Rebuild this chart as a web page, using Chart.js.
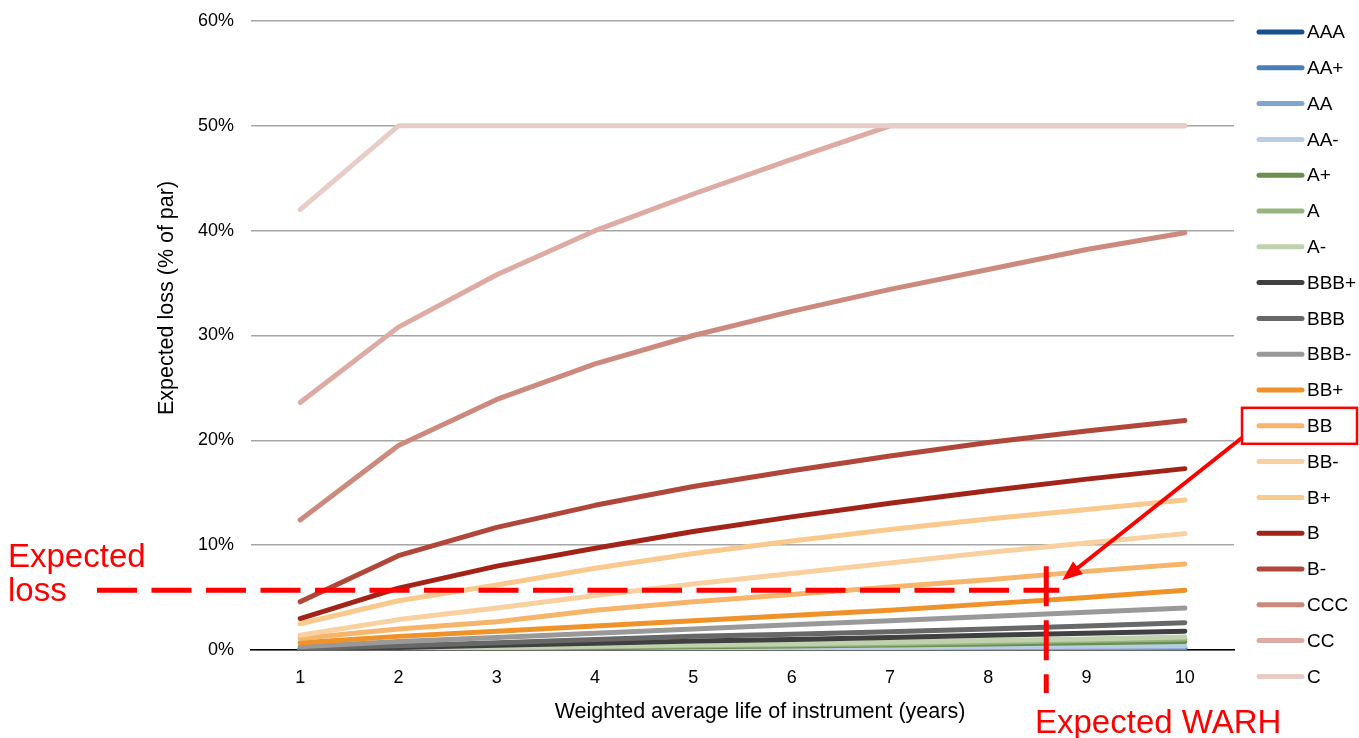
<!DOCTYPE html>
<html>
<head>
<meta charset="utf-8">
<script src="https://cdn.jsdelivr.net/npm/chart.js@4.4.1/dist/chart.umd.min.js"></script>
<style>
  body { margin: 0; background: #fff; }
  #wrap { width: 1359px; height: 738px; }
</style>
</head>
<body>
<div id="wrap"><canvas id="loss" width="1359" height="738"></canvas></div>
<script>
// years of weighted average life
var years = ['1', '2', '3', '4', '5', '6', '7', '8', '9', '10'];
var ratings = ['AAA', 'AA+', 'AA', 'AA-', 'A+', 'A', 'A-', 'BBB+', 'BBB', 'BBB-',
               'BB+', 'BB', 'BB-', 'B+', 'B', 'B-', 'CCC', 'CC', 'C'];
var colours = ['#17508f', '#4a7fb5', '#7fa6cf', '#b7cde3', '#6a8f4e', '#98b47f', '#bfd2ad',
               '#404040', '#686868', '#999999', '#f0922a', '#f6b56a', '#f9d09f', '#f9c98d',
               '#a22418', '#b0473a', '#cc8a7f', '#ddaba3', '#e8ccc7'];

// expected loss, % of par
var lossAAA  = [0.0, 0.01, 0.02, 0.03, 0.04, 0.05, 0.06, 0.08, 0.1, 0.12];
var lossAAp  = [0.01, 0.02, 0.04, 0.06, 0.08, 0.1, 0.12, 0.15, 0.18, 0.2];
var lossAA   = [0.01, 0.03, 0.05, 0.08, 0.1, 0.13, 0.16, 0.2, 0.24, 0.28];
var lossAAm  = [0.02, 0.05, 0.08, 0.12, 0.16, 0.2, 0.25, 0.3, 0.35, 0.4];
var lossAp   = [0.03, 0.08, 0.15, 0.22, 0.3, 0.38, 0.47, 0.57, 0.68, 0.8];
var lossA    = [0.04, 0.1, 0.2, 0.3, 0.4, 0.5, 0.6, 0.75, 0.9, 1.05];
var lossAm   = [0.05, 0.15, 0.25, 0.35, 0.5, 0.6, 0.75, 0.9, 1.05, 1.25];
var lossBBBp = [0.1, 0.25, 0.45, 0.65, 0.85, 1.0, 1.2, 1.4, 1.6, 1.8];
var lossBBB  = [0.15, 0.4, 0.7, 1.0, 1.3, 1.5, 1.75, 2.0, 2.3, 2.6];
var lossBBBm = [0.3, 0.8, 1.2, 1.6, 2.0, 2.4, 2.8, 3.2, 3.6, 4.0];
var lossBBp  = [0.7, 1.3, 1.8, 2.3, 2.8, 3.3, 3.8, 4.4, 5.0, 5.7];
var lossBB   = [1.1, 2.0, 2.7, 3.8, 4.6, 5.3, 6.0, 6.7, 7.5, 8.2];
var lossBBm  = [1.4, 2.9, 4.0, 5.2, 6.3, 7.3, 8.3, 9.3, 10.2, 11.1];
var lossBp   = [2.5, 4.7, 6.2, 7.8, 9.2, 10.4, 11.5, 12.5, 13.4, 14.3];
var lossB    = [3.0, 5.9, 8.0, 9.7, 11.3, 12.7, 14.0, 15.2, 16.3, 17.3];
var lossBm   = [4.6, 9.0, 11.7, 13.8, 15.6, 17.1, 18.5, 19.8, 20.9, 21.9];
var lossCCC  = [12.4, 19.5, 23.9, 27.3, 30.0, 32.3, 34.4, 36.3, 38.2, 39.8];
var lossCC   = [23.6, 30.8, 35.8, 40.0, 43.5, 46.8, 50, 50, 50, 50];
var lossC    = [42.0, 50, 50, 50, 50, 50, 50, 50, 50, 50];

var allLoss = [lossAAA, lossAAp, lossAA, lossAAm, lossAp, lossA, lossAm, lossBBBp, lossBBB, lossBBBm,
               lossBBp, lossBB, lossBBm, lossBp, lossB, lossBm, lossCCC, lossCC, lossC];

// annotation: expected loss level and expected WARH (years)
var expectedLoss = 5.7;
var expectedWarh = 8.59;
var highlighted = 'BB';

var FONT = 'Liberation Sans, Arial, sans-serif';

var datasets = ratings.map(function (r, i) {
  return {
    label: r,
    data: allLoss[i],
    borderColor: colours[i],
    backgroundColor: colours[i],
    borderWidth: 5,
    borderCapStyle: 'round',
    borderJoinStyle: 'round',
    pointRadius: 0,
    tension: 0,
    order: ratings.length - i
  };
});

var extras = {
  id: 'extras',
  afterDraw: function (chart) {
    var c = chart.ctx;
    var area = chart.chartArea;
    var xs = chart.scales.x, ys = chart.scales.y;
    c.save();

    // axis titles
    c.fillStyle = '#000';
    c.font = '21.5px ' + FONT;
    c.textAlign = 'center';
    c.textBaseline = 'middle';
    c.fillText('Weighted average life of instrument (years)', 760, 712);
    c.save();
    c.translate(167, 298);
    c.rotate(-Math.PI / 2);
    c.fillText('Expected loss (% of par)', 0, 0);
    c.restore();

    // legend
    c.font = '19px ' + FONT;
    c.textAlign = 'left';
    var hy = 0;
    chart.data.datasets.forEach(function (ds, i) {
      var y = 32 + i * 35.8;
      c.strokeStyle = ds.borderColor;
      c.lineWidth = 5;
      c.lineCap = 'round';
      c.beginPath();
      c.moveTo(area.right + 25, y);
      c.lineTo(area.right + 68, y);
      c.stroke();
      c.fillStyle = '#000';
      c.fillText(ds.label, area.right + 73, y + 1);
      if (ds.label === highlighted) hy = y;
    });

    // highlight box around legend entry
    c.strokeStyle = '#ff0000';
    c.lineWidth = 2.5;
    c.lineCap = 'butt';
    c.strokeRect(area.right + 8, hy - 18, 115, 36);

    // expected loss line
    var ly = ys.getPixelForValue(expectedLoss);
    var wx = xs.getPixelForValue(expectedWarh - 1);
    c.lineWidth = 5;
    c.setLineDash([40, 14.5]);
    c.beginPath();
    c.moveTo(97, ly);
    c.lineTo(wx + 13, ly);
    c.stroke();
    // expected WARH line
    c.setLineDash([40, 14]);
    c.beginPath();
    c.moveTo(wx, ly - 24);
    c.lineTo(wx, 693);
    c.stroke();
    c.setLineDash([]);

    // arrow from the box to the crossing
    var ax0 = area.right + 8, ay0 = hy + 12;
    var ax1 = wx + 16, ay1 = ly - 10;
    var ang = Math.atan2(ay1 - ay0, ax1 - ax0);
    c.lineWidth = 4;
    c.beginPath();
    c.moveTo(ax0, ay0);
    c.lineTo(ax1 - 14 * Math.cos(ang), ay1 - 14 * Math.sin(ang));
    c.stroke();
    c.fillStyle = '#ff0000';
    c.beginPath();
    c.moveTo(ax1, ay1);
    c.lineTo(ax1 - 20 * Math.cos(ang) + 8 * Math.sin(ang), ay1 - 20 * Math.sin(ang) - 8 * Math.cos(ang));
    c.lineTo(ax1 - 20 * Math.cos(ang) - 8 * Math.sin(ang), ay1 - 20 * Math.sin(ang) + 8 * Math.cos(ang));
    c.closePath();
    c.fill();

    // red labels
    c.font = '33px ' + FONT;
    c.textAlign = 'left';
    c.textBaseline = 'alphabetic';
    c.fillText('Expected', 8, 567);
    c.fillText('loss', 8, 601);
    c.fillText('Expected WARH', 1035, 733);

    c.restore();
  }
};

var chart = new Chart(document.getElementById('loss').getContext('2d'), {
  type: 'line',
  data: { labels: years, datasets: datasets },
  options: {
    responsive: false,
    animation: false,
    devicePixelRatio: 1,
    layout: { padding: { top: 21, right: 125, left: 0, bottom: 0 } },
    plugins: { legend: { display: false }, tooltip: { enabled: false } },
    scales: {
      x: {
        offset: true,
        grid: { display: false, drawTicks: false },
        border: { display: true, color: '#000', width: 1.5 },
        ticks: { color: '#000', padding: 17, font: { family: FONT, size: 18 } },
        afterFit: function (s) { s.height = 88; s.paddingLeft = 0; s.paddingRight = 0; }
      },
      y: {
        min: 0,
        max: 60,
        ticks: {
          stepSize: 10,
          padding: 17,
          color: '#000',
          font: { family: FONT, size: 18 },
          callback: function (v) { return v + '%'; }
        },
        grid: { color: '#a6a6a6', lineWidth: 1.5, drawTicks: false },
        border: { display: false },
        afterFit: function (s) { s.width = 251; s.paddingTop = 0; s.paddingBottom = 0; }
      }
    }
  },
  plugins: [extras]
});
</script>
</body>
</html>
